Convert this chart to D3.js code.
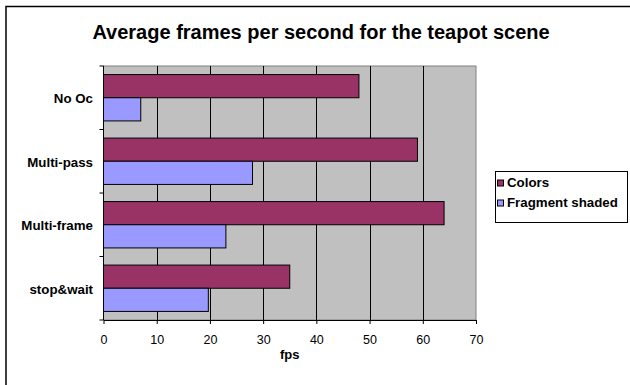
<!DOCTYPE html>
<html>
<head>
<meta charset="utf-8">
<script src="https://cdn.jsdelivr.net/npm/d3@7"></script>
<style>
  body { margin: 0; background: #fff; }
  text { font-family: Arial, "Liberation Sans", sans-serif; }
</style>
</head>
<body>
<script>
var width = 630,
    height = 385

var categories = ["No Oc", "Multi-pass", "Multi-frame", "stop&wait"]
var seriesNames = ["Colors", "Fragment shaded"]
var colorsValues = [48, 59, 64, 35]
var fragmentValues = [7, 28, 23, 19.7]
var xTicks = [0, 10, 20, 30, 40, 50, 60, 70]

var plot = {left: 103.5, right: 476, top: 66, bottom: 320}

var svg = d3.select("body")
    .append("svg")
        .attr("width", width)
        .attr("height", height)

// chart border (right/bottom run off the canvas)
svg.append("rect")
    .attr("x", 6).attr("y", 6.5)
    .attr("width", 640).attr("height", 400)
    .attr("fill", "white")
    .attr("stroke", "black")
    .attr("stroke-width", 1.5)

svg.append("text")
    .attr("x", 321).attr("y", 38.5)
    .attr("text-anchor", "middle")
    .style("font-size", "20px")
    .style("font-weight", "bold")
    .text("Average frames per second for the teapot scene")

var x = d3.scaleLinear()
    .domain([0, 70])
    .range([plot.left, plot.right])

var y = d3.scaleBand()
    .domain(categories)
    .range([plot.top, plot.bottom])
    .paddingInner(0)

var y1 = d3.scaleBand()
    .domain(seriesNames)
    .range([0, y.bandwidth()])
    .paddingOuter(0.37)

var color = d3.scaleOrdinal()
    .domain(seriesNames)
    .range(["#993366", "#9999ff"])

// plot background
svg.append("rect")
    .attr("x", plot.left).attr("y", plot.top)
    .attr("width", plot.right - plot.left)
    .attr("height", plot.bottom - plot.top)
    .attr("fill", "#c0c0c0")
    .attr("stroke", "#808080")

// vertical grid lines
svg.selectAll("grid")
    .data(xTicks.slice(1, -1))
    .enter()
    .append("line")
        .attr("x1", function(d){ return Math.round(x(d)) + 0.5 })
        .attr("x2", function(d){ return Math.round(x(d)) + 0.5 })
        .attr("y1", plot.top)
        .attr("y2", plot.bottom)
        .attr("stroke", "black")

var rows = []
categories.forEach(function(c, i) {
    rows.push({cat: c, series: "Colors", value: colorsValues[i]})
    rows.push({cat: c, series: "Fragment shaded", value: fragmentValues[i]})
})

svg.selectAll("bars")
    .data(rows)
    .enter()
    .append("rect")
        .attr("x", x(0))
        .attr("y", function(d){ return y(d.cat) + y1(d.series) })
        .attr("width", function(d){ return x(d.value) - x(0) })
        .attr("height", y1.bandwidth())
        .attr("fill", function(d){ return color(d.series) })
        .attr("stroke", "black")
        .attr("stroke-width", 1)

// x axis
var xAxis = svg.append("g")
    .attr("transform", "translate(0," + plot.bottom + ")")
    .call(d3.axisBottom(x).tickValues(xTicks).tickSize(4).tickSizeOuter(0).tickPadding(11))
xAxis.select(".domain").attr("stroke", "black")
xAxis.selectAll("text").style("font-size", "12.5px").attr("fill", "black")

// y axis: ticks on category boundaries
var yAxisG = svg.append("g")
yAxisG.append("line")
    .attr("x1", plot.left).attr("x2", plot.left)
    .attr("y1", plot.top).attr("y2", plot.bottom)
    .attr("stroke", "black")
yAxisG.selectAll("yticks")
    .data(categories.slice(1).concat(["_end"]))
    .enter()
    .append("line")
        .attr("x1", plot.left - 4).attr("x2", plot.left)
        .attr("y1", function(d){ return d === "_end" ? plot.bottom : y(d) })
        .attr("y2", function(d){ return d === "_end" ? plot.bottom : y(d) })
        .attr("stroke", "black")
yAxisG.append("line")
    .attr("x1", plot.left - 4).attr("x2", plot.left)
    .attr("y1", plot.top).attr("y2", plot.top)
    .attr("stroke", "black")

svg.selectAll("catLabels")
    .data(categories)
    .enter()
    .append("text")
        .attr("x", 93)
        .attr("y", function(d){ return y(d) + y.bandwidth() / 2 })
        .attr("dy", "0.4em")
        .attr("text-anchor", "end")
        .style("font-size", "13.3px")
        .style("font-weight", "bold")
        .text(function(d){ return d })

svg.append("text")
    .attr("x", (plot.left + plot.right) / 2)
    .attr("y", 358.5)
    .attr("text-anchor", "middle")
    .style("font-size", "13px")
    .style("font-weight", "bold")
    .text("fps")

// legend
var legend = svg.append("g")
legend.append("rect")
    .attr("x", 495.5).attr("y", 171.5)
    .attr("width", 132).attr("height", 51)
    .attr("fill", "white")
    .attr("stroke", "black")

var items = legend.selectAll("items")
    .data(seriesNames)
    .enter()
    .append("g")
        .attr("transform", function(d, i){ return "translate(497," + (186.5 + i * 20) + ")" })
items.append("rect")
    .attr("x", 0.5).attr("y", -6.5)
    .attr("width", 6).attr("height", 6)
    .attr("fill", function(d){ return color(d) })
    .attr("stroke", "black")
items.append("text")
    .attr("x", 10).attr("y", 0)
    .style("font-size", "13.3px")
    .style("font-weight", "bold")
    .text(function(d){ return d })
</script>
</body>
</html>
